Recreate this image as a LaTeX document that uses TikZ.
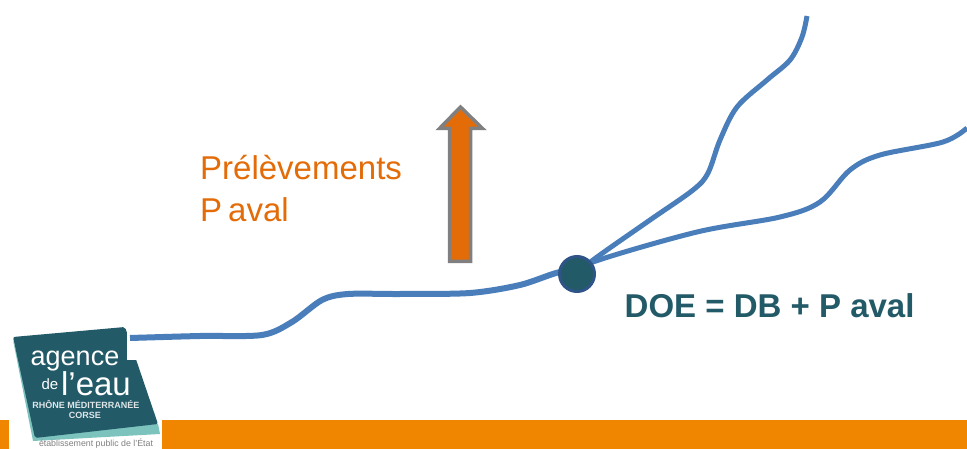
\documentclass[tikz,border=0pt]{standalone}
\usepackage{fontspec}
\setmainfont{Liberation Sans}
\definecolor{river}{HTML}{4A7EBB}
\definecolor{teal1}{HTML}{235A68}
\definecolor{teal2}{HTML}{7CC3BE}
\definecolor{band}{HTML}{F08500}
\definecolor{arrowo}{HTML}{E36C09}
\definecolor{dot}{HTML}{2F5487}
\tikzset{x=1pt,y=-1pt,
 riverline/.style={draw=river,line width=6pt,line join=round},
 branchline/.style={draw=river,line width=5pt,line join=round},
 lab/.style={inner sep=0pt,anchor=west},
 logotext/.style={text=white,inner sep=0pt}}
\begin{document}
\begin{tikzpicture}
\useasboundingbox (0,0) rectangle (967,449);
\fill[white] (0,0) rectangle (967,449);
\fill[band] (0,420) rectangle (967,449);
\fill[white] (9,420) rectangle (162,449);
% logo
\fill[teal2] (13,340) -- (33,441) -- (160,434) -- (158,424) -- (40,430) -- cycle;
\fill[teal1,rounded corners=2pt] (13,337) -- (125,327) -- (158,424) -- (35,438) -- cycle;
\fill[white] (127,320) rectangle (160,360);
% rivers
\coordinate (j) at (577,275);
\draw[riverline] plot[smooth,tension=0.5] coordinates {(130,338) (200,336) (262,335) (292,322) (322,300) (348,294) (400,294) (470,293) (520,285) (560,272) (j)};
\draw[branchline] plot[smooth,tension=0.55] coordinates {(j) (593,260) (650,220) (693,190) (708,173) (720,140) (737,107) (767,80) (790,60) (802,37) (807,16)};
\draw[branchline] plot[smooth,tension=0.55] coordinates {(j) (593,262) (697,232) (780,217) (820,202) (850,170) (880,155) (943,142) (967,128)};
\node[circle,fill=teal1,draw=dot,line width=3pt,minimum size=35pt,inner sep=0pt] (n) at (577,274) {};
% arrow
\draw[draw=gray,fill=arrowo,line width=3.5pt,line join=miter]
 (449.5,261.5) -- (449.5,128.5) -- (439.5,128.5) -- (460.5,107) -- (482.5,128.5) -- (470.5,128.5) -- (470.5,261.5) -- cycle;
% labels
\node[lab,text=arrowo,font=\fontsize{33}{42}\selectfont,align=left] (t1) at (200,189) {Prélèvements\\P\hspace{6pt}aval};
\node[lab,text=teal1,font=\bfseries\fontsize{33}{36}\selectfont] (t2) at (624.5,306) {DOE = DB + P aval};
% logo text
\node[logotext,font=\fontsize{27}{27}\selectfont] (g1) at (75,361) {agence};
\node[logotext,font=\fontsize{15}{15}\selectfont] (g2) at (50,384) {de};
\node[logotext,font=\fontsize{33}{33}\selectfont] (g3) at (96,384) {l'eau};
\node[logotext,text=white!85!teal1,font=\bfseries\fontsize{9}{9}\selectfont] (g4) at (86,405) {RHÔNE MÉDITERRANÉE};
\node[logotext,text=white!85!teal1,font=\bfseries\fontsize{9}{9}\selectfont] (g5) at (85,415) {CORSE};
\node[logotext,text=gray,font=\fontsize{8.8}{9}\selectfont] (g6) at (96,443.5) {établissement public de l'État};
\end{tikzpicture}
\end{document}
